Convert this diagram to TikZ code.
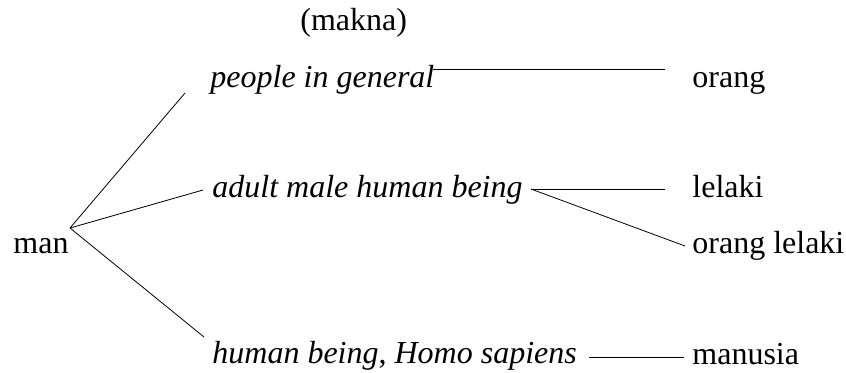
\documentclass[tikz,border=0pt]{standalone}
\usepackage{fontspec}
\setmainfont{Liberation Serif}[ItalicFont={Liberation Serif Italic}]
\begin{document}
\begin{tikzpicture}[x=0.5pt,y=-0.5pt,font=\fontsize{16}{19}\selectfont,
    every node/.style={anchor=base west,inner sep=0pt}]
      \useasboundingbox (0,0) rectangle (846,372);
      \draw
        (300,30) node (makna){(makna)}
        (13,253) node (man){man}
        (210,87) node (people){\textit{people in general}}
        (212,197) node (adult){\textit{adult male human being}}
        (212,363) node (human){\textit{human being}, \textit{Homo sapiens}}
        (692,87) node (orang){orang}
        (692,197) node (lelaki){lelaki}
        (692,253) node (oranglelaki){orang lelaki}
        (692,364) node (manusia){manusia};
      \coordinate (fork) at (70,228);
      \coordinate (toPeople) at (185,93);
      \coordinate (toAdult) at (203,190);
      \coordinate (toHuman) at (204,337);
      \coordinate (peopleR) at (433,69);
      \coordinate (orangL) at (665,69);
      \coordinate (adultR) at (531,189);
      \coordinate (lelakiL) at (665,189);
      \coordinate (oranglelakiL) at (685,246);
      \coordinate (humanR) at (589,357);
      \coordinate (manusiaL) at (684,357);
      \begin{scope}[-]
        \draw (fork) to (toPeople);
        \draw (fork) to (toAdult);
        \draw (fork) to (toHuman);
        \draw (peopleR) to (orangL);
        \draw (adultR) to (lelakiL);
        \draw (adultR) to (oranglelakiL);
        \draw (humanR) to (manusiaL);
      \end{scope}
    \end{tikzpicture}
\end{document}
